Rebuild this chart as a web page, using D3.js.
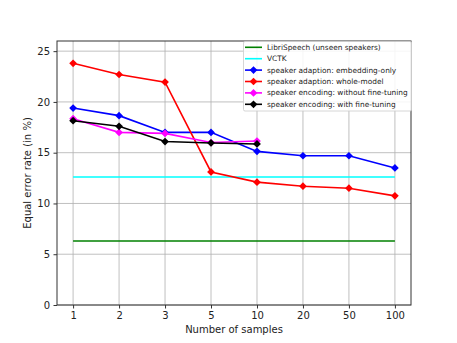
<!DOCTYPE html>
<html><head><meta charset="utf-8">
<script src="https://cdn.jsdelivr.net/npm/d3@7"></script>
<style>body{margin:0;background:#fff}svg{display:block}text{font-family:"DejaVu Sans",sans-serif}</style>
</head><body><svg id="c" width="457" height="343"></svg>
<script>
const categories = ["1","2","3","5","10","20","50","100"];
const yTicks = [0,5,10,15,20,25];
const libriSpeech = [6.3,6.3,6.3,6.3,6.3,6.3,6.3,6.3];
const vctk = [12.6,12.6,12.6,12.6,12.6,12.6,12.6,12.6];
const adaptEmbedding = [19.4,18.65,17.0,17.0,15.13,14.7,14.7,13.5];
const adaptWhole = [23.8,22.7,21.95,13.1,12.1,11.7,11.5,10.75];
const encNoFT = [18.35,17.0,16.9,16.0,16.15];
const encFT = [18.15,17.6,16.1,15.96,15.86];
const seriesNames = ["LibriSpeech (unseen speakers)","VCTK","speaker adaption: embedding-only","speaker adaption: whole-model","speaker encoding: without fine-tuning","speaker encoding: with fine-tuning"];
const seriesColors = ["#008000","#00ffff","#0000ff","#ff0000","#ff00ff","#000000"];
const seriesMarkers = [false,false,true,true,true,true];
const seriesData = [libriSpeech,vctk,adaptEmbedding,adaptWhole,encNoFT,encFT];

const svg = d3.select("#c");
const L=57, R=411, T=41, B=305;
const x = d3.scaleLinear().domain([-0.35,7.35]).range([L,R]);
const y = d3.scaleLinear().domain([0,26]).range([B,T]);

// grid
const g = svg.append("g");
g.selectAll(".gx").data(categories).join("line")
 .attr("x1",(d,i)=>x(i)).attr("x2",(d,i)=>x(i)).attr("y1",T).attr("y2",B)
 .attr("stroke","#b0b0b0").attr("stroke-width",0.8);
g.selectAll(".gy").data(yTicks).join("line")
 .attr("x1",L).attr("x2",R).attr("y1",d=>y(d)).attr("y2",d=>y(d))
 .attr("stroke","#b0b0b0").attr("stroke-width",0.8);

// axes
const xAxis = d3.axisBottom(x).tickValues(d3.range(categories.length)).tickFormat(i=>categories[i]).tickSize(3.5).tickPadding(3.5);
const yAxis = d3.axisLeft(y).tickValues(yTicks).tickSize(3.5).tickPadding(3.5);
const ax = svg.append("g").attr("transform",`translate(0,${B})`).call(xAxis);
const ay = svg.append("g").attr("transform",`translate(${L},0)`).call(yAxis);
[ax,ay].forEach(a=>{
  a.select(".domain").remove();
  a.selectAll("line").attr("stroke","#333");
  a.selectAll("text").attr("font-size",10).attr("fill","#222").attr("font-family","DejaVu Sans");
});

// series
const line = d3.line().x((d,i)=>x(i)).y(d=>y(d));
const diamond = d3.symbol().type(d3.symbolDiamond2).size(38);
seriesData.forEach((data,k)=>{
  svg.append("path").datum(data).attr("d",line).attr("fill","none")
    .attr("stroke",seriesColors[k]).attr("stroke-width",1.6);
  if(seriesMarkers[k]){
    svg.selectAll(null).data(data).join("path")
      .attr("d",diamond).attr("transform",(d,i)=>`translate(${x(i)},${y(d)})`)
      .attr("fill",seriesColors[k]);
  }
});

// frame
svg.append("rect").attr("x",L).attr("y",T).attr("width",R-L).attr("height",B-T)
 .attr("fill","none").attr("stroke","#333").attr("stroke-width",1);

// labels
svg.append("text").attr("x",(L+R)/2).attr("y",333).attr("text-anchor","middle")
 .attr("font-size",10).attr("fill","#222").text("Number of samples");
svg.append("text").attr("transform",`translate(31,${(T+B)/2}) rotate(-90)`).attr("text-anchor","middle")
 .attr("font-size",10).attr("fill","#222").text("Equal error rate (in %)");

// legend
const lg = svg.append("g");
lg.append("rect").attr("x",243.5).attr("y",41.5).attr("width",168).attr("height",69.5)
 .attr("fill","#fff").attr("fill-opacity",0.85).attr("stroke","#ccc").attr("stroke-width",0.8).attr("rx",1.5);
seriesNames.forEach((name,k)=>{
  const yy = 47.3 + k*11.4;
  lg.append("line").attr("x1",245).attr("x2",262).attr("y1",yy).attr("y2",yy)
    .attr("stroke",seriesColors[k]).attr("stroke-width",1.6);
  if(seriesMarkers[k]) lg.append("path").attr("d",diamond).attr("transform",`translate(253.5,${yy})`).attr("fill",seriesColors[k]);
  lg.append("text").attr("x",267).attr("y",yy).attr("dy","0.35em").attr("font-size",7.4).attr("fill","#222").text(name);
});
</script></body></html>
